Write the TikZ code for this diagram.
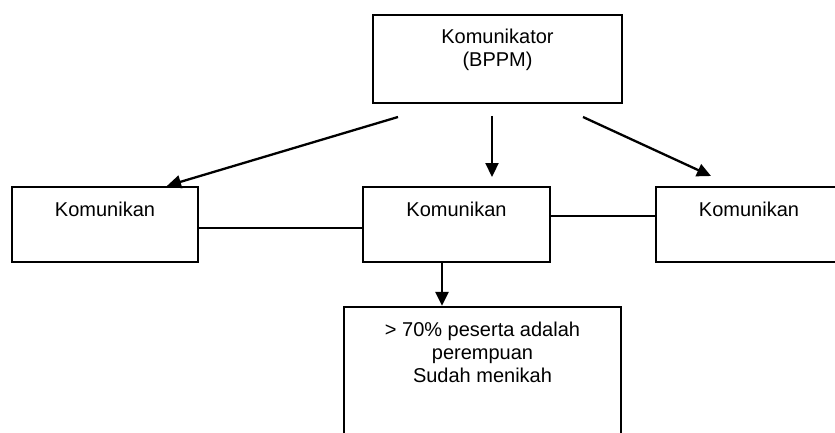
\documentclass[tikz,border=0pt]{standalone}
\usepackage{fontspec}
\setmainfont{Liberation Sans}
\usetikzlibrary{arrows.meta}
\begin{document}
\begin{tikzpicture}[x=1pt,y=-1pt,
  box/.style={draw, line width=2.3pt, rectangle, inner sep=0pt},
  txt/.style={font=\fontsize{20}{23}\selectfont, align=center, inner sep=0pt, anchor=north},
  arr/.style={line width=2.3pt, -{Triangle[length=14pt,width=13pt]}},
  link/.style={line width=2.3pt}]
\clip (0,0) rectangle (835,433);
\fill[white] (0,0) rectangle (835,433);
% boxes
\node[box, minimum width=249pt, minimum height=88pt] (T) at (497.5,59) {};
\node[box, minimum width=186pt, minimum height=75pt] (L) at (105,224.5) {};
\node[box, minimum width=187pt, minimum height=75pt] (M) at (456.5,224.5) {};
\node[box, minimum width=186pt, minimum height=75pt] (R) at (749,224.5) {};
\node[box, minimum width=277pt, minimum height=160pt] (B) at (482.5,387) {};
% texts
\node[txt] (Tt) at (497.5,28.8) {Komunikator\\(BPPM)};
\node[txt] (Lt) at (105,202) {Komunikan};
\node[txt] (Mt) at (456.5,202) {Komunikan};
\node[txt] (Rt) at (749,202) {Komunikan};
\node[txt] (Bt) at (482.5,321.4) {> 70\% peserta adalah\\perempuan\\Sudah menikah};
% connector ends
\coordinate (a1s) at (398,117);
\coordinate (a2s) at (492,116);
\coordinate (a2e) at (492,177);
\coordinate (a3s) at (583,117);
\coordinate (a3e) at (711,176);
% arrows
\draw[arr] (a1s) -- ([xshift=62pt]L.north);
\draw[arr] (a2s) -- (a2e);
\draw[arr] (a3s) -- (a3e);
\draw[arr] ([xshift=-14.5pt]M.south) -- ([xshift=-40.5pt]B.north);
% links
\draw[link] (L.east |- 0,228) -- (M.west |- 0,228);
\draw[link] (M.east |- 0,216) -- (R.west |- 0,216);
\end{tikzpicture}
\end{document}
